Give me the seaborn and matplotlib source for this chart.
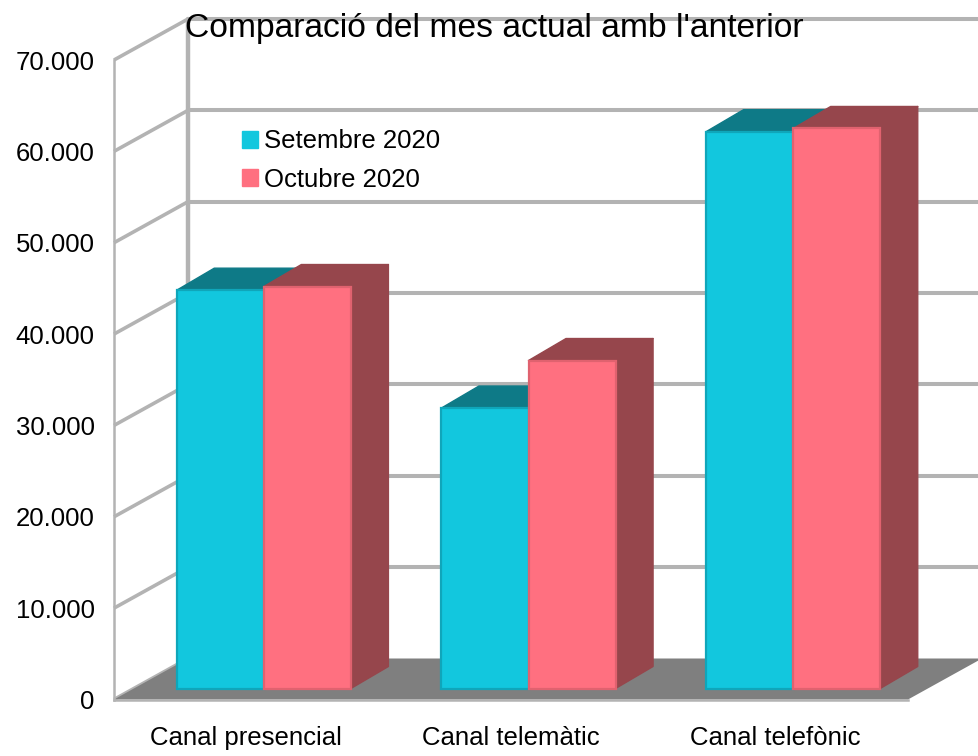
import numpy as np
import pandas as pd
import seaborn as sns
import matplotlib
matplotlib.use("Agg")
import matplotlib.pyplot as plt
from matplotlib.patches import Polygon
from matplotlib.ticker import FuncFormatter

categories = ["Canal presencial", "Canal telemàtic", "Canal telefònic"]
setembre = [43600, 30700, 60950]
octubre = [44000, 35900, 61300]
series_names = ["Setembre 2020", "Octubre 2020"]
yticks = [0, 10000, 20000, 30000, 40000, 50000, 60000, 70000]
title = "Comparació del mes actual amb l'anterior"

W, H = 979, 756
GRID = "#B3B3B3"
FLOOR = "#7F7F7F"
FRONT = ["#12C7DE", "#FF7080"]
EDGE = ["#0FA6BA", "#E0626F"]
DARK = ["#0E7A87", "#96464C"]

sns.set_theme(style="white")
plt.rcParams["font.family"] = ["Liberation Sans", "DejaVu Sans"]

fig = plt.figure(figsize=(W / 100, H / 100), dpi=100)


def rect(left, right, bottom, top):
    return [left / W, 1 - bottom / H, (right - left) / W, (bottom - top) / H]


# front plane of the 3D box: holds the axis labels, the walls and the floor
L, R, B, T = 114, 908, 699.5, 60
ax = fig.add_axes(rect(L, R, B, T))
ax.set_xlim(-0.5, 2.5)
ax.set_ylim(0, 70000)
ax.patch.set_alpha(0)
xpx = (R - L) / 3
ypx = (B - T) / 70000
wall_dx = 74 / xpx
wall_dy = 41 / ypx

ax.add_patch(Polygon([(-0.5, 0), (2.5, 0), (2.5 + wall_dx, wall_dy), (-0.5 + wall_dx, wall_dy)],
                     closed=True, fc=FLOOR, ec="none", clip_on=False, zorder=2))
for v in yticks:
    ax.plot([-0.5, -0.5 + wall_dx], [v, v + wall_dy], color=GRID, lw=2.6, clip_on=False, zorder=1,
            solid_capstyle="butt")
    if v > 0:
        ax.plot([-0.5 + wall_dx, 2.5 + wall_dx], [v + wall_dy, v + wall_dy], color=GRID, lw=2.9,
                clip_on=False, zorder=1, solid_capstyle="butt")
ax.plot([-0.5 + wall_dx] * 2, [wall_dy, 70000 + wall_dy], color=GRID, lw=3.2, clip_on=False, zorder=1)

for s in ("top", "right"):
    ax.spines[s].set_visible(False)
for s in ("left", "bottom"):
    ax.spines[s].set_color(GRID)
    ax.spines[s].set_linewidth(1.8)
ax.set_yticks(yticks)
ax.yaxis.set_major_formatter(FuncFormatter(lambda v, _: f"{int(v):,}".replace(",", ".")))
ax.set_xticks(range(3))
ax.set_xticklabels(categories)
ax.tick_params(axis="y", length=0, pad=14, labelsize=18.5, labelcolor="black")
ax.tick_params(axis="x", length=0, pad=19, labelsize=18.5, labelcolor="black")
ax.set_xlabel("")
ax.set_ylabel("")

# bars stand half-way in the depth of the box
bx = fig.add_axes(rect(L + 17.5, R + 17.5, B - 11, T - 11))
bx.patch.set_alpha(0)
df = pd.DataFrame({
    "canal": categories * 2,
    "valor": setembre + octubre,
    "mes": [series_names[0]] * 3 + [series_names[1]] * 3,
})
sns.barplot(data=df, x="canal", y="valor", hue="mes", hue_order=series_names,
            palette=FRONT, order=categories, width=0.658, gap=0, saturation=1, ax=bx)
bx.set_xlim(-0.5, 2.5)
bx.set_ylim(0, 70000)
bx.axis("off")

depth_x = 37.5 / xpx
depth_y = 22 / ypx
bars = [p for p in bx.patches if p.get_height() > 0]
for i, p in enumerate(bars):
    s = i // 3
    z = 3 + 3 * s
    x0, x1 = p.get_x(), p.get_x() + p.get_width()
    h = p.get_height()
    bx.add_patch(Polygon([(x0, h), (x1, h), (x1 + depth_x, h + depth_y), (x0 + depth_x, h + depth_y)],
                         closed=True, fc=DARK[s], ec=DARK[s], lw=1.0, clip_on=False, zorder=z, joinstyle="round"))
    bx.add_patch(Polygon([(x1, 0), (x1 + depth_x, depth_y), (x1 + depth_x, h + depth_y), (x1, h)],
                         closed=True, fc=DARK[s], ec=DARK[s], lw=1.0, clip_on=False, zorder=z, joinstyle="round"))
    p.set_zorder(z + 1)
    p.set_edgecolor(EDGE[s])
    p.set_linewidth(1.6)
    p.set_clip_on(False)

handles, labels = bx.get_legend_handles_labels()
leg = bx.legend(handles, labels, loc="center left", bbox_to_anchor=(219 / W, 1 - 160.5 / H),
                bbox_transform=fig.transFigure, frameon=False, fontsize=18.5,
                handlelength=0.62, handleheight=0.62, handletextpad=0.24, labelspacing=0.55)
for h, c in zip(leg.get_patches(), FRONT):
    h.set_edgecolor(c)
    h.set_facecolor(c)
for t in leg.get_texts():
    t.set_color("black")
leg.set_zorder(20)

fig.text(494.5 / W, 1 - 28 / H, title, ha="center", va="center", fontsize=24.2, color="black", zorder=30)

fig.savefig("out.png", dpi=100)
